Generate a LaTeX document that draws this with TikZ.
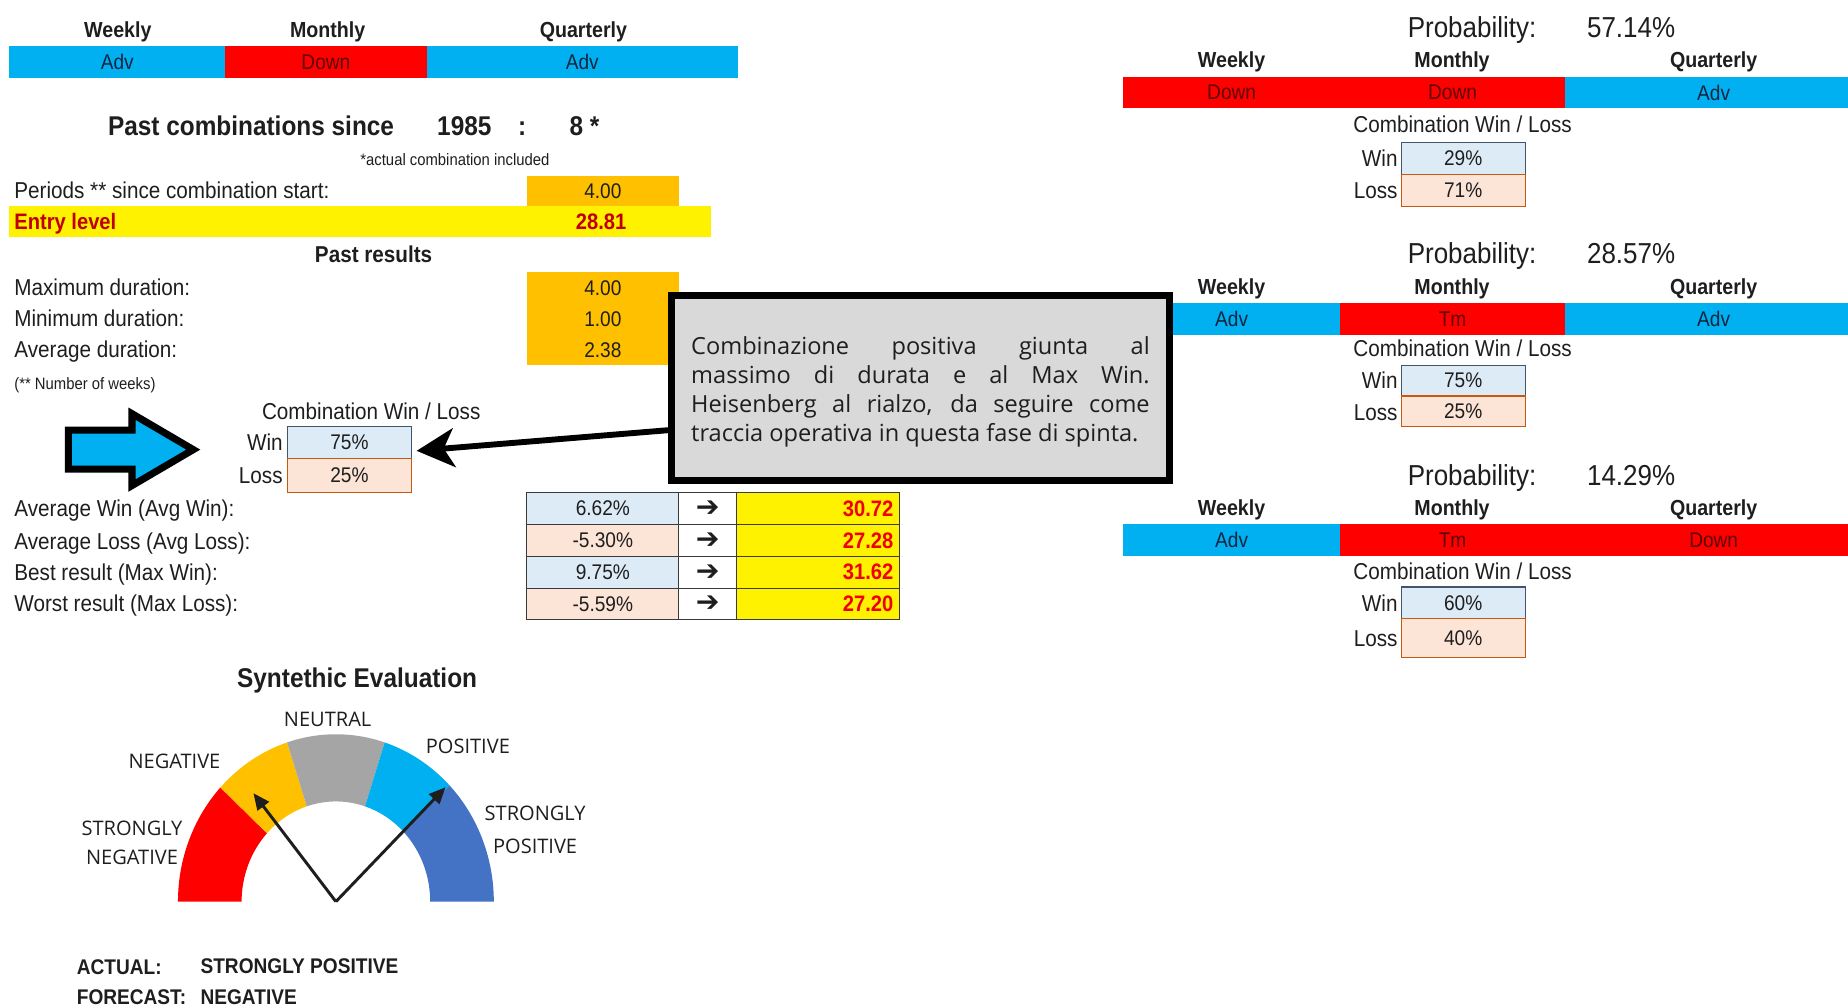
\documentclass[tikz,border=0pt]{standalone}
\usepackage{fontspec}
\setmainfont[FakeStretch=0.9]{Liberation Sans}
\newfontfamily\boxfont{Open Sans}
\newfontfamily\symfont{DejaVu Sans}
\usetikzlibrary{arrows.meta}

\newcommand\setfs[1]{\fontsize{#1}{#1}\selectfont}

\definecolor{ink}{HTML}{1E1E1E}
\definecolor{advblue}{HTML}{00B0F0}
\definecolor{downred}{HTML}{FF0000}
\definecolor{advtext}{HTML}{0F2440}
\definecolor{downtext}{HTML}{5E0000}
\definecolor{entryred}{HTML}{C00000}
\definecolor{amber}{HTML}{FFC000}
\definecolor{winfill}{HTML}{DDEBF7}
\definecolor{winedge}{HTML}{44546A}
\definecolor{lossfill}{HTML}{FCE4D6}
\definecolor{lossedge}{HTML}{C65911}
\definecolor{tline}{HTML}{3A3A3A}
\definecolor{valred}{HTML}{F00000}
\definecolor{notegray}{HTML}{D9D9D9}
\definecolor{ggray}{HTML}{A5A5A5}
\definecolor{gdark}{HTML}{4472C4}

\tikzset{
    hdr/.style={anchor=mid, yshift=-4pt, text=ink, font=\bfseries\setfs{18.5}},
    lbl/.style={anchor=mid west, yshift=-4pt, text=ink, font=\setfs{19.5}},
    small/.style={yshift=-3pt, text=ink, font=\setfs{14}},
    title/.style={anchor=mid, yshift=-5pt, text=ink, font=\bfseries\setfs{23}},
    barcell/.style={minimum height=27pt, font=\setfs{18}},
    advcell/.style={barcell, fill=advblue, text=advtext},
    downcell/.style={barcell, fill=downred, text=downtext},
    wltitle/.style={anchor=mid, yshift=-4pt, text=ink, font=\setfs{19.5}},
    wl/.style={anchor=mid east, yshift=-4pt, text=ink, font=\setfs{19.5}},
    winbox/.style={draw=winedge, line width=1pt, fill=winfill, text=ink, minimum width=105pt, minimum height=27pt, font=\setfs{18}},
    lossbox/.style={draw=lossedge, line width=1pt, fill=lossfill, text=ink, minimum width=105pt, minimum height=27pt, font=\setfs{18}},
    prob/.style={anchor=mid, yshift=-6pt, text=ink, font=\setfs{24.5}},
    ambercell/.style={fill=amber, text=ink, minimum width=129pt, minimum height=26.3pt, font=\setfs{18}},
    tcell/.style={draw=tline, line width=0.8pt, text=ink, minimum height=27pt, font=\setfs{18}},
    gauge/.style={anchor=mid, yshift=-3pt, align=center, text=ink, font=\boxfont\fontsize{17}{25}\selectfont},
    needle/.style={draw=ink, line width=2.5pt, -{Triangle[length=14pt,width=12pt]}}
}

\begin{document}
\begin{tikzpicture}[x=1pt,y=-1pt,every node/.style={inner sep=0pt}]
    \useasboundingbox (0,0) rectangle (1568,854);

    \node[hdr] (hweek) at (100,25) {Weekly};
    \node[hdr] (hmonth) at (278,25) {Monthly};
    \node[hdr] (hquart) at (495,25) {Quarterly};
    \node[advcell, minimum width=183pt] (cweek) at (99.5,52.5) {Adv};
    \node[downcell, minimum width=171pt] (cmonth) at (276.5,52.5) {Down};
    \node[advcell, minimum width=264pt] (cquart) at (494,52.5) {Adv};

    \node[title] (since) at (213,107) {Past combinations since};
    \node[title] (year) at (394,107) {1985};
    \node[title] (colon) at (443,107) {:};
    \node[title] (count) at (496,107) {8 *};
    \node[small, anchor=mid] (actual) at (386,135) {*actual combination included};

    \node[lbl] (periods) at (12,162) {Periods ** since combination start:};
    \node[ambercell, minimum height=26pt] (vperiods) at (511.5,162) {4.00};
    \node[fill=yellow, minimum width=595pt, minimum height=26pt] (entrybar) at (305.5,188) {};
    \node[anchor=mid west, yshift=-4pt, text=entryred, font=\bfseries\setfs{19}] (entry) at (12,188) {Entry level};
    \node[anchor=mid, yshift=-4pt, text=entryred, font=\bfseries\setfs{19}] (ventry) at (510,188) {28.81};

    \node[anchor=mid, yshift=-4pt, text=ink, font=\bfseries\setfs{19.5}] (past) at (317,216) {Past results};
    \node[lbl] (maxd) at (12,244) {Maximum duration:};
    \node[lbl] (mind) at (12,270) {Minimum duration:};
    \node[lbl] (avgd) at (12,297) {Average duration:};
    \node[ambercell] (vmaxd) at (511.5,244.2) {4.00};
    \node[ambercell] (vmind) at (511.5,270.5) {1.00};
    \node[ambercell] (vavgd) at (511.5,296.8) {2.38};
    \node[small, anchor=mid west] (weeks) at (12,325) {(** Number of weeks)};

    \node[wltitle] (wltitle) at (315,349) {Combination Win / Loss};
    \node[wl] (lwin) at (240,375.5) {Win};
    \node[wl] (lloss) at (240,404) {Loss};
    \node[winbox] (wwin) at (296.5,375.5) {75\%};
    \node[lossbox, minimum height=29pt] (wloss) at (296.5,403.5) {25\%};

    \filldraw[fill=advblue, draw=black, line width=6pt, line join=miter]
        (58,365) -- (112,365) -- (112,351) -- (164,381.5) -- (112,412) -- (112,398) -- (58,398) -- cycle;

    \node[lbl] (avgwin) at (12,432) {Average Win (Avg Win):};
    \node[lbl] (avgloss) at (12,460) {Average Loss (Avg Loss):};
    \node[lbl] (bestres) at (12,486) {Best result (Max Win):};
    \node[lbl] (worstres) at (12,512) {Worst result (Max Loss):};

    \node[tcell, fill=winfill, minimum width=129pt] (p1) at (511.5,431.5) {6.62\%};
    \node[tcell, fill=lossfill, minimum width=129pt] (p2) at (511.5,458.5) {-5.30\%};
    \node[tcell, fill=winfill, minimum width=129pt] (p3) at (511.5,485.5) {9.75\%};
    \node[tcell, fill=lossfill, minimum width=129pt] (p4) at (511.5,512.5) {-5.59\%};
    \node[tcell, fill=white, minimum width=49pt, font=\symfont\setfs{24}] (a1) at (600.5,431.5) {➔};
    \node[tcell, fill=white, minimum width=49pt, font=\symfont\setfs{24}] (a2) at (600.5,458.5) {➔};
    \node[tcell, fill=white, minimum width=49pt, font=\symfont\setfs{24}] (a3) at (600.5,485.5) {➔};
    \node[tcell, fill=white, minimum width=49pt, font=\symfont\setfs{24}] (a4) at (600.5,512.5) {➔};
    \node[tcell, fill=yellow, minimum width=138pt, text width=128pt, align=right, text=valred, font=\bfseries\setfs{19}] (t1) at (694,431.5) {30.72};
    \node[tcell, fill=yellow, minimum width=138pt, text width=128pt, align=right, text=valred, font=\bfseries\setfs{19}] (t2) at (694,458.5) {27.28};
    \node[tcell, fill=yellow, minimum width=138pt, text width=128pt, align=right, text=valred, font=\bfseries\setfs{19}] (t3) at (694,485.5) {31.62};
    \node[tcell, fill=yellow, minimum width=138pt, text width=128pt, align=right, text=valred, font=\bfseries\setfs{19}] (t4) at (694,512.5) {27.20};

    \node[title] (synth) at (303,576) {Syntethic Evaluation};
    \begin{scope}[shift={(285,765)}, yscale=-1]
        \fill[downred] (180:134 and 142) arc[start angle=180, end angle=137, x radius=134, y radius=142]
            -- (137:80 and 85) arc[start angle=137, end angle=180, x radius=80, y radius=85] -- cycle;
        \fill[amber] (137:134 and 142) arc[start angle=137, end angle=108, x radius=134, y radius=142]
            -- (108:80 and 85) arc[start angle=108, end angle=137, x radius=80, y radius=85] -- cycle;
        \fill[ggray] (108:134 and 142) arc[start angle=108, end angle=72, x radius=134, y radius=142]
            -- (72:80 and 85) arc[start angle=72, end angle=108, x radius=80, y radius=85] -- cycle;
        \fill[advblue] (72:134 and 142) arc[start angle=72, end angle=44, x radius=134, y radius=142]
            -- (44:80 and 85) arc[start angle=44, end angle=72, x radius=80, y radius=85] -- cycle;
        \fill[gdark] (44:134 and 142) arc[start angle=44, end angle=0, x radius=134, y radius=142]
            -- (0:80 and 85) arc[start angle=0, end angle=44, x radius=80, y radius=85] -- cycle;
        \coordinate (pivot) at (0,0);
        \coordinate (forecast) at (-70,92);
        \coordinate (current) at (93,97);
    \end{scope}
    \draw[needle] (pivot) -- (forecast);
    \draw[needle] (pivot) -- (current);
    \node[gauge] (gneu) at (278,611) {NEUTRAL};
    \node[gauge] (gneg) at (148,646) {NEGATIVE};
    \node[gauge] (gpos) at (397,634) {POSITIVE};
    \node[gauge, anchor=center, yshift=3pt] (gsneg) at (112,715) {STRONGLY\\NEGATIVE};
    \node[gauge, anchor=center, yshift=3pt, font=\boxfont\fontsize{17}{28}\selectfont] (gspos) at (454,704) {STRONGLY\\POSITIVE};

    \node[anchor=mid west, yshift=-4pt, text=ink, font=\bfseries\setfs{18}] (lact) at (65,820) {ACTUAL:};
    \node[anchor=mid west, yshift=-4pt, text=ink, font=\bfseries\setfs{18}] (vact) at (170,819) {STRONGLY POSITIVE};
    \node[anchor=mid west, yshift=-4pt, text=ink, font=\bfseries\setfs{18}] (lfore) at (65,846) {FORECAST:};
    \node[anchor=mid west, yshift=-4pt, text=ink, font=\bfseries\setfs{18}] (vfore) at (170,846) {NEGATIVE};

    \node[prob] (prob1) at (1249,23) {Probability:};
    \node[prob] (pval1) at (1384,23) {57.14\%};
    \node[hdr] (hweek1) at (1045,51) {Weekly};
    \node[hdr] (hmonth1) at (1232,51) {Monthly};
    \node[hdr] (hquart1) at (1454,51) {Quarterly};
    \node[downcell, minimum width=184pt] (cweek1) at (1045,78.5) {Down};
    \node[downcell, minimum width=191pt] (cmonth1) at (1232.5,78.5) {Down};
    \node[advcell, minimum width=252pt] (cquart1) at (1454,78.5) {Adv};
    \node[wltitle] (wltitle1) at (1241,106) {Combination Win / Loss};
    \node[wl] (lwin1) at (1186,135) {Win};
    \node[wl] (lloss1) at (1186,162) {Loss};
    \node[winbox] (wwin1) at (1241.5,134.5) {29\%};
    \node[lossbox] (wloss1) at (1241.5,161.5) {71\%};

    \node[prob] (prob2) at (1249,215) {Probability:};
    \node[prob] (pval2) at (1384,215) {28.57\%};
    \node[hdr] (hweek2) at (1045,243) {Weekly};
    \node[hdr] (hmonth2) at (1232,243) {Monthly};
    \node[hdr] (hquart2) at (1454,243) {Quarterly};
    \node[advcell, minimum width=184pt] (cweek2) at (1045,270.5) {Adv};
    \node[downcell, minimum width=191pt] (cmonth2) at (1232.5,270.5) {Tm};
    \node[advcell, minimum width=252pt] (cquart2) at (1454,270.5) {Adv};
    \node[wltitle] (wltitle2) at (1241,296) {Combination Win / Loss};
    \node[wl] (lwin2) at (1186,323) {Win};
    \node[wl] (lloss2) at (1186,350) {Loss};
    \node[winbox, minimum height=26pt] (wwin2) at (1241.5,323) {75\%};
    \node[lossbox, minimum height=26pt] (wloss2) at (1241.5,349) {25\%};

    \node[prob] (prob3) at (1249,403) {Probability:};
    \node[prob] (pval3) at (1384,403) {14.29\%};
    \node[hdr] (hweek3) at (1045,431) {Weekly};
    \node[hdr] (hmonth3) at (1232,431) {Monthly};
    \node[hdr] (hquart3) at (1454,431) {Quarterly};
    \node[advcell, minimum width=184pt] (cweek3) at (1045,458.5) {Adv};
    \node[downcell, minimum width=191pt] (cmonth3) at (1232.5,458.5) {Tm};
    \node[downcell, minimum width=252pt] (cquart3) at (1454,458.5) {Down};
    \node[wltitle] (wltitle3) at (1241,485) {Combination Win / Loss};
    \node[wl] (lwin3) at (1186,512) {Win};
    \node[wl] (lloss3) at (1186,542) {Loss};
    \node[winbox] (wwin3) at (1241.5,511.5) {60\%};
    \node[lossbox, minimum height=33pt] (wloss3) at (1241.5,541.5) {40\%};

    \node[draw=black, line width=6pt, fill=notegray, minimum width=422pt, minimum height=157pt,
        text width=389pt, align=justify, text=ink, font=\boxfont\fontsize{20}{24.5}\selectfont]
        (note) at (781,329.5)
        {\hyphenpenalty=10000 \rule{0pt}{21pt}Combinazione positiva giunta al\linebreak massimo di durata e al Max Win.\linebreak Heisenberg al rialzo, da seguire come\linebreak traccia operativa in questa fase di spinta.};

    \draw[line width=5pt, -{Stealth[length=32pt,width=33pt,inset=9pt]}]
        ([yshift=-35.5pt]note.west) -- ([xshift=4pt,yshift=-7pt]wwin.east);
\end{tikzpicture}
\end{document}
